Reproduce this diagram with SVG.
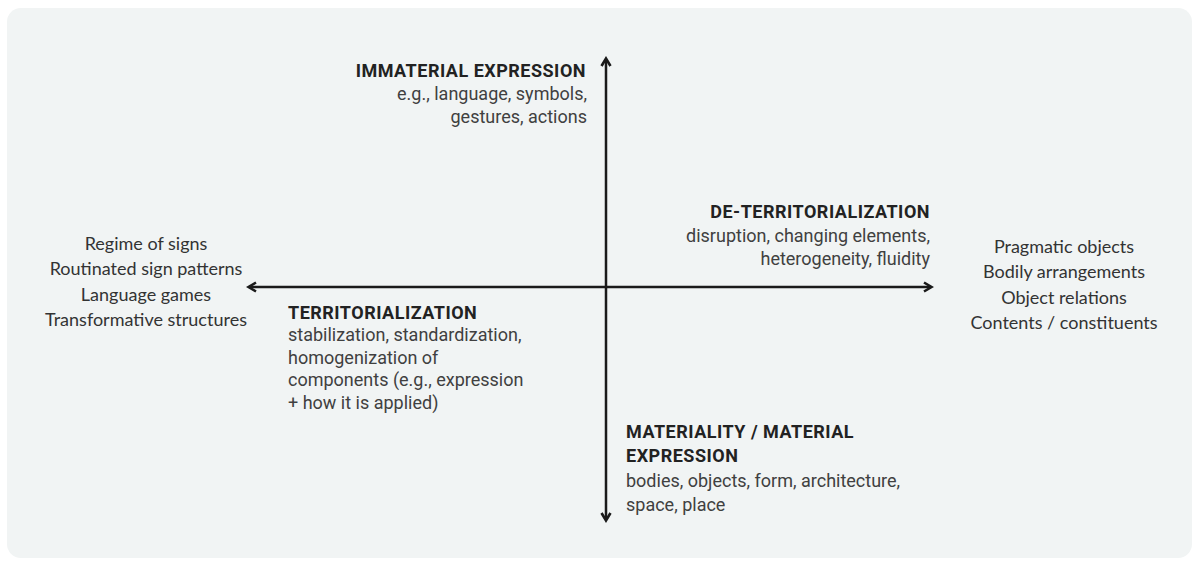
<svg xmlns="http://www.w3.org/2000/svg" width="1202" height="568" viewBox="0 0 1202 568">
<defs>
<marker id="ah" viewBox="0 0 12 12" refX="9" refY="6" markerWidth="12" markerHeight="12" orient="auto-start-reverse" markerUnits="userSpaceOnUse">
<path d="M2,1.5 L9.5,6 L2,10.5" fill="none" stroke="#1a1a1a" stroke-width="2.6" stroke-linejoin="miter"/>
</marker>
<style>
.h{font-family:Roboto,"Liberation Sans",sans-serif;font-weight:bold;font-size:18px;letter-spacing:0.5px;fill:#222}
.b{font-family:Roboto,"Liberation Sans",sans-serif;font-size:18px;fill:#404040}
.l{font-family:Lato,"Open Sans",sans-serif;font-size:18px;fill:#333;text-anchor:middle}
.ax{stroke:#1a1a1a;stroke-width:2.5;fill:none}
</style>
</defs>
<rect x="0" y="0" width="1202" height="568" fill="#ffffff"/>
<rect id="bg" x="7" y="8" width="1185" height="550" rx="14" fill="#f1f4f4"/>
<g id="connectors">
<line class="ax" x1="606" y1="520" x2="606" y2="59" marker-start="url(#ah)" marker-end="url(#ah)"/>
<line class="ax" x1="249" y1="287" x2="931" y2="287" marker-start="url(#ah)" marker-end="url(#ah)"/>
</g>
<g id="immaterial">
<text class="h" x="586" y="77" text-anchor="end">IMMATERIAL EXPRESSION</text>
<text class="b" x="587" y="100" text-anchor="end">e.g., language, symbols,</text>
<text class="b" x="587" y="123" text-anchor="end">gestures, actions</text>
</g>
<g id="deterritorialization">
<text class="h" x="930" y="218" text-anchor="end">DE-TERRITORIALIZATION</text>
<text class="b" x="930" y="242" text-anchor="end">disruption, changing elements,</text>
<text class="b" x="930" y="265" text-anchor="end">heterogeneity, fluidity</text>
</g>
<g id="territorialization">
<text class="h" x="288" y="319">TERRITORIALIZATION</text>
<text class="b" x="288" y="341">stabilization, standardization,</text>
<text class="b" x="288" y="364">homogenization of</text>
<text class="b" x="288" y="386">components (e.g., expression</text>
<text class="b" x="288" y="409">+ how it is applied)</text>
</g>
<g id="materiality">
<text class="h" x="626" y="438">MATERIALITY / MATERIAL</text>
<text class="h" x="626" y="462">EXPRESSION</text>
<text class="b" x="626" y="487">bodies, objects, form, architecture,</text>
<text class="b" x="626" y="511">space, place</text>
</g>
<g id="left-list">
<text class="l" x="146" y="250">Regime of signs</text>
<text class="l" x="146" y="275">Routinated sign patterns</text>
<text class="l" x="146" y="301">Language games</text>
<text class="l" x="146" y="326">Transformative structures</text>
</g>
<g id="right-list">
<text class="l" x="1064" y="253">Pragmatic objects</text>
<text class="l" x="1064" y="278">Bodily arrangements</text>
<text class="l" x="1064" y="304">Object relations</text>
<text class="l" x="1064" y="329">Contents / constituents</text>
</g>
</svg>
